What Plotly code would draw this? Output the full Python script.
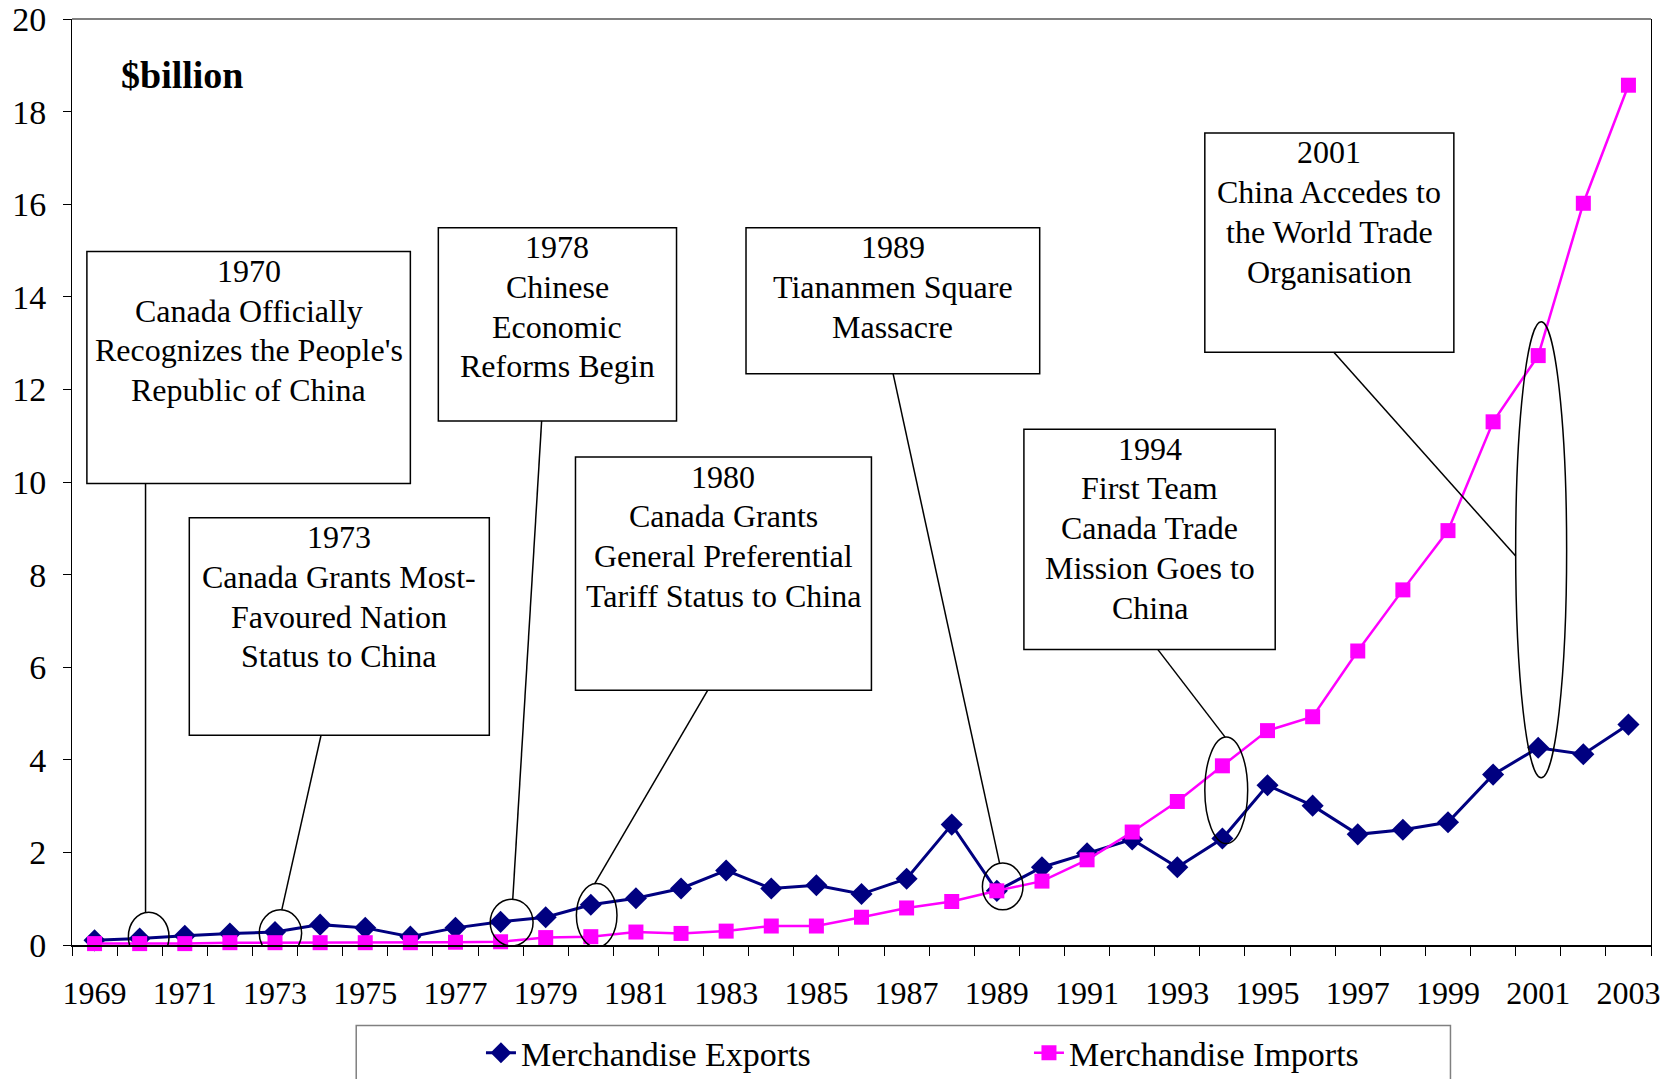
import plotly.graph_objects as go

years = list(range(1969, 2004))
exports = [0.10, 0.14, 0.20, 0.25, 0.28, 0.44, 0.37, 0.18, 0.37, 0.50,
           0.60, 0.87, 1.01, 1.22, 1.61, 1.22, 1.29, 1.10, 1.43, 2.60,
           1.17, 1.68, 1.98, 2.28, 1.68, 2.30, 3.45, 3.01, 2.39, 2.49,
           2.65, 3.68, 4.26, 4.12, 4.76]
imports = [0.03, 0.03, 0.03, 0.05, 0.05, 0.05, 0.05, 0.05, 0.06, 0.07,
           0.16, 0.18, 0.28, 0.25, 0.30, 0.41, 0.41, 0.60, 0.80, 0.94,
           1.17, 1.38, 1.84, 2.44, 3.10, 3.87, 4.63, 4.93, 6.35, 7.67,
           8.95, 11.30, 12.73, 16.02, 18.57]
tick_years = list(range(1969, 2004, 2))
y_ticks = list(range(0, 21, 2))

event_lines = [
    ["1970", "Canada Officially", "Recognizes the People's", "Republic of China"],
    ["1973", "Canada Grants Most-", "Favoured Nation", "Status to China"],
    ["1978", "Chinese", "Economic", "Reforms Begin"],
    ["1980", "Canada Grants", "General Preferential", "Tariff Status to China"],
    ["1989", "Tiananmen Square", "Massacre"],
    ["1994", "First Team", "Canada Trade", "Mission Goes to", "China"],
    ["2001", "China Accedes to", "the World Trade", "Organisation"],
]

# layout geometry (data coordinates) for boxes, connectors and ellipses
boxes = [
    (1968.83, 1976.00, 9.97, 14.98),
    (1971.10, 1977.75, 4.53, 9.23),
    (1976.62, 1981.90, 11.32, 15.49),
    (1979.66, 1986.22, 5.50, 10.54),
    (1983.44, 1989.95, 12.34, 15.49),
    (1989.60, 1995.17, 6.38, 11.14),
    (1993.61, 1999.13, 12.80, 17.54),
]
connectors = [
    (1970.13, 9.97, 1970.13, 0.71),
    (1974.02, 4.53, 1973.15, 0.76),
    (1978.91, 11.32, 1978.27, 0.99),
    (1982.59, 5.50, 1980.09, 1.33),
    (1986.70, 12.34, 1989.06, 1.77),
    (1992.57, 6.38, 1994.06, 4.49),
    (1996.47, 12.80, 2000.50, 8.40),
]
ellipses = [
    (1969.75, 1970.65, -0.35, 0.71),
    (1972.65, 1973.59, -0.25, 0.76),
    (1977.77, 1978.72, -0.02, 0.99),
    (1979.68, 1980.58, -0.05, 1.33),
    (1988.68, 1989.58, 0.76, 1.77),
    (1993.61, 1994.56, 2.19, 4.49),
    (2000.50, 2001.63, 3.61, 13.46),
]

FONT = "Liberation Serif"
LINE_GAP = 39.7   # px between text lines in the boxes
FIRST_LINE = 19.5  # px from box top to first line centre

fig = go.Figure()
fig.add_trace(go.Scatter(
    x=years, y=exports, mode="lines+markers", name="Merchandise Exports",
    line=dict(color="#000080", width=3),
    marker=dict(symbol="diamond", size=17, color="#000080"),
    cliponaxis=False,
))
fig.add_trace(go.Scatter(
    x=years, y=imports, mode="lines+markers", name="Merchandise Imports",
    line=dict(color="#FF00FF", width=2.5),
    marker=dict(symbol="square", size=15, color="#FF00FF"),
    cliponaxis=False,
))

shapes = []
for (x0, x1, y0, y1) in boxes:
    shapes.append(dict(type="rect", xref="x", yref="y", x0=x0, x1=x1, y0=y0, y1=y1,
                       line=dict(color="black", width=1.5), fillcolor="white", layer="above"))
for (x0, y0, x1, y1) in connectors:
    shapes.append(dict(type="line", xref="x", yref="y", x0=x0, y0=y0, x1=x1, y1=y1,
                       line=dict(color="black", width=1.5), layer="above"))
for (x0, x1, y0, y1) in ellipses:
    shapes.append(dict(type="circle", xref="x", yref="y", x0=x0, x1=x1, y0=y0, y1=y1,
                       line=dict(color="black", width=1.5), layer="above"))
# top border of plot area
shapes.append(dict(type="line", xref="paper", yref="paper", x0=0, x1=1, y0=1, y1=1,
                   line=dict(color="#808080", width=2)))
# legend frame
shapes.append(dict(type="rect", xref="paper", yref="paper", x0=0.180, x1=0.873, y0=-0.26, y1=-0.0869,
                   line=dict(color="#808080", width=1.5), fillcolor="rgba(0,0,0,0)"))

annotations = []
for (x0, x1, y0, y1), lines in zip(boxes, event_lines):
    for i, line in enumerate(lines):
        annotations.append(dict(x=(x0 + x1) / 2, y=y1, xref="x", yref="y", text=line,
                                showarrow=False, xanchor="center", yanchor="middle",
                                yshift=-(FIRST_LINE + i * LINE_GAP),
                                font=dict(family=FONT, size=32, color="black")))
annotations.append(dict(x=1969.55, y=18.78, xref="x", yref="y", text="<b>$billion</b>",
                        showarrow=False, xanchor="left", yanchor="middle",
                        font=dict(family=FONT, size=38, color="black")))

fig.update_layout(
    width=1670, height=1079,
    margin=dict(l=72, r=19, t=19, b=133.5, autoexpand=False),
    paper_bgcolor="white", plot_bgcolor="white",
    font=dict(family=FONT, size=31, color="black"),
    showlegend=True,
    legend=dict(orientation="h", x=0.259, xanchor="left", y=-0.0855, yanchor="top",
                font=dict(family=FONT, size=34, color="black"),
                entrywidth=503, entrywidthmode="pixels",
                bgcolor="rgba(0,0,0,0)", borderwidth=0),
    shapes=shapes, annotations=annotations,
    xaxis=dict(range=[1968.5, 2003.5], tickmode="array", tickvals=tick_years,
               ticktext=[str(y) for y in tick_years],
               ticks="outside", ticklen=0, ticklabelstandoff=19,
               ticklabeloverflow="allow",
               showline=True, linecolor="black", linewidth=2,
               showgrid=False, zeroline=False, automargin=False,
               tickfont=dict(family=FONT, size=32, color="black"),
               minor=dict(tickmode="array", tickvals=[1968.5 + i for i in range(36)],
                          ticks="outside", ticklen=9, tickcolor="black", tickwidth=1,
                          showgrid=False)),
    yaxis=dict(range=[0, 20], tickmode="array", tickvals=y_ticks,
               ticks="outside", ticklen=8, tickcolor="black", tickwidth=1,
               ticklabelstandoff=10, ticklabeloverflow="allow",
               showline=True, linecolor="black", linewidth=1, mirror=True,
               showgrid=False, zeroline=False, automargin=False,
               tickfont=dict(family=FONT, size=34, color="black")),
)

fig.write_html("out.html",
               config={"displayModeBar": False},
               post_script="document.body.style.margin='0';document.body.style.overflow='hidden';")
